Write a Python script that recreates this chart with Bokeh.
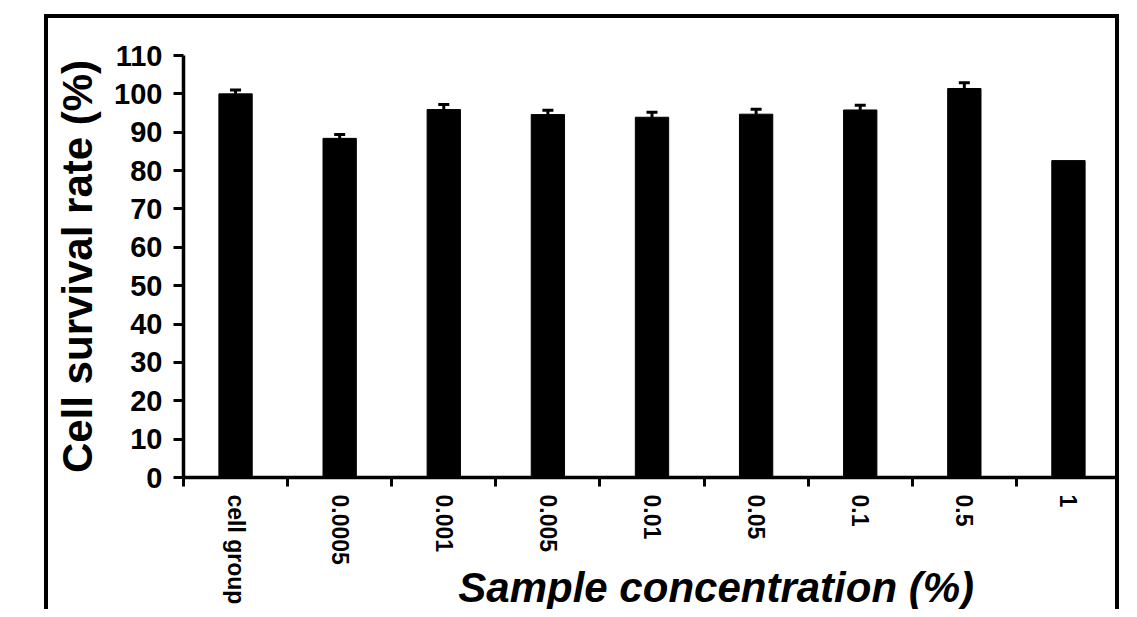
from bokeh.plotting import figure
from bokeh.models import (Range1d, FixedTicker, ColumnDataSource, LinearAxis,
                          Whisker, TeeHead)
from bokeh.embed import file_html
from bokeh.resources import INLINE

# ---- data ----
categories = ["cell group", "0.0005", "0.001", "0.005", "0.01", "0.05", "0.1", "0.5", "1"]
survival = [100.0, 88.4, 95.9, 94.6, 93.9, 94.7, 95.8, 101.4, 82.6]
errors = [1.0, 1.0, 1.3, 1.1, 1.3, 1.3, 1.2, 1.5, 0.0]
y_ticks = list(range(0, 111, 10))
x_title = "Sample concentration (%)"
y_title = "Cell survival rate (%)"

n = len(categories)
centers = [i + 0.5 for i in range(n)]

p = figure(width=1075, height=595, output_backend="svg", toolbar_location=None,
           x_range=Range1d(0, n), y_range=Range1d(0, 110),
           min_border_left=135, min_border_right=3, min_border_top=37, min_border_bottom=130)
p.styles = {"border-top": "4px solid black", "border-left": "4px solid black",
            "border-right": "4px solid black", "margin-left": "44px", "margin-top": "14px"}
p.outline_line_color = None
p.xgrid.visible = False
p.ygrid.visible = False
p.background_fill_color = "white"
p.border_fill_color = "white"

src = ColumnDataSource(dict(x=centers, top=survival))
p.vbar(x="x", top="top", width=0.32, source=src, fill_color="black", line_color="black")

ex = [c for c, e in zip(centers, errors) if e > 0]
ev = [v for v, e in zip(survival, errors) if e > 0]
eu = [v + e for v, e in zip(survival, errors) if e > 0]
esrc = ColumnDataSource(dict(x=ex, lower=ev, upper=eu))
w = Whisker(source=esrc, base="x", upper="upper", lower="lower", dimension="height",
            line_color="black", line_width=3,
            upper_head=TeeHead(size=11, line_width=3, line_color="black"), lower_head=None)
p.add_layout(w)

# y axis
ya = p.yaxis[0]
ya.ticker = FixedTicker(ticks=y_ticks)
ya.axis_line_width = 3.5
ya.axis_line_color = "black"
ya.major_tick_out = 10
ya.major_tick_in = 0
ya.major_tick_line_width = 3
ya.major_tick_line_color = "black"
ya.minor_tick_line_color = None
ya.major_label_text_font = "Liberation Sans"
ya.major_label_text_font_style = "bold"
ya.major_label_text_font_size = "29px"
ya.major_label_text_color = "black"
ya.major_label_standoff = 11
ya.axis_label = y_title
ya.axis_label_text_font = "Liberation Sans"
ya.axis_label_text_font_style = "bold"
ya.axis_label_text_font_size = "42px"
ya.axis_label_text_color = "black"
ya.axis_label_standoff = 10

# x axis: labels at category centres, ticks at category boundaries
xa = p.xaxis[0]
xa.ticker = FixedTicker(ticks=centers, minor_ticks=list(range(n + 1)))
xa.major_label_overrides = {c: lab for c, lab in zip(centers, categories)}
xa.axis_line_width = 3.5
xa.axis_line_color = "black"
xa.major_tick_line_color = None
xa.major_tick_out = 9
xa.major_tick_in = 0
xa.minor_tick_out = 9
xa.minor_tick_in = 0
xa.minor_tick_line_width = 3
xa.minor_tick_line_color = "black"
xa.major_label_orientation = -3.14159265 / 2
xa.major_label_standoff = 8
xa.major_label_text_font = "Liberation Sans"
xa.major_label_text_font_style = "bold"
xa.major_label_text_font_size = "23px"
xa.major_label_text_color = "black"

# second (label-only) axis carrying the x title, tucked up beside the rotated tick labels;
# leading no-break spaces move the visible title right, where the original has it
xt = LinearAxis(ticker=FixedTicker(ticks=[]))
xt.axis_line_color = None
xt.major_tick_line_color = None
xt.minor_tick_line_color = None
xt.major_tick_out = 0
xt.major_tick_in = 0
xt.major_label_text_font_size = "0px"
xt.axis_label = "\u00a0" * 11 + x_title
xt.axis_label_text_font = "Liberation Sans"
xt.axis_label_text_font_style = "bold italic"
xt.axis_label_text_font_size = "42px"
xt.axis_label_text_color = "black"
xt.axis_label_standoff = -44
p.add_layout(xt, "below")

open("out.html", "w").write(file_html(p, INLINE))
